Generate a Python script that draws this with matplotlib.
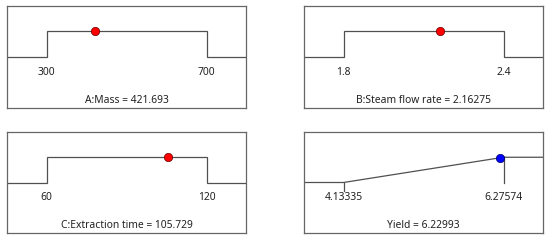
import numpy as np
import matplotlib.pyplot as plt

# factor settings / desirability ramps
names = ['A:Mass', 'B:Steam flow rate', 'C:Extraction time', 'Yield']
lows = [300, 1.8, 60, 4.13335]
highs = [700, 2.4, 120, 6.27574]
values = [421.693, 2.16275, 105.729, 6.22993]
low_labels = ['300', '1.8', '60', '4.13335']
high_labels = ['700', '2.4', '120', '6.27574']
value_labels = ['421.693', '2.16275', '105.729', '6.22993']
dot_colors = ['#ff0000', '#ff0000', '#ff0000', '#0000ff']

plt.rcParams['font.family'] = ['Noto Sans', 'DejaVu Sans']

fig = plt.figure(figsize=(5.5, 2.4), dpi=100)

# axes rectangles in figure fraction
rects = [
    [7/550, 132/240, 239/550, 102/240],
    [304/550, 132/240, 239/550, 102/240],
    [7/550, 7/240, 239/550, 101/240],
    [304/550, 7/240, 239/550, 101/240],
]

line_col = '#505050'
y_lo = 0.5
y_hi = 0.75

for i in range(4):
    ax = fig.add_axes(rects[i])
    lo = lows[i]
    hi = highs[i]
    pad = (hi - lo) * 39.5 / 160
    x0 = lo - pad
    x1 = hi + pad
    ax.set_xlim(x0, x1)
    ax.set_ylim(0, 1)

    if i < 3:
        # flat ramp: step up between low and high
        ax.plot([x0, lo, lo, hi, hi, x1], [y_lo, y_lo, y_hi, y_hi, y_lo, y_lo],
                color=line_col, lw=0.9, solid_joinstyle='miter')
        yv = y_hi
    else:
        # response ramp: slope from low to high
        ax.plot([x0, lo, hi, x1], [y_lo, y_lo, y_hi, y_hi], color=line_col, lw=0.9)
        ax.plot([lo, lo], [y_lo, y_lo - 0.08], color=line_col, lw=0.9)
        ax.plot([hi, hi], [y_hi, y_lo], color=line_col, lw=0.9)
        yv = y_lo + (values[i] - lo) / (hi - lo) * (y_hi - y_lo)

    ax.plot([values[i]], [yv], 'o', color=dot_colors[i], markersize=6,
            markeredgecolor='#600000' if i < 3 else '#000060', markeredgewidth=0.5, zorder=5)

    ax.text(lo, 0.35, low_labels[i], ha='center', va='center', fontsize=7.4, color='#222222')
    ax.text(hi, 0.35, high_labels[i], ha='center', va='center', fontsize=7.4, color='#222222')
    ax.text((x0 + x1) / 2, 0.075, names[i] + ' = ' + value_labels[i],
            ha='center', va='center', fontsize=7.4, color='#222222')

    ax.set_xticks([])
    ax.set_yticks([])
    for s in ax.spines.values():
        s.set_color('#666666')
        s.set_linewidth(0.9)

plt.savefig('out.png', dpi=100)
